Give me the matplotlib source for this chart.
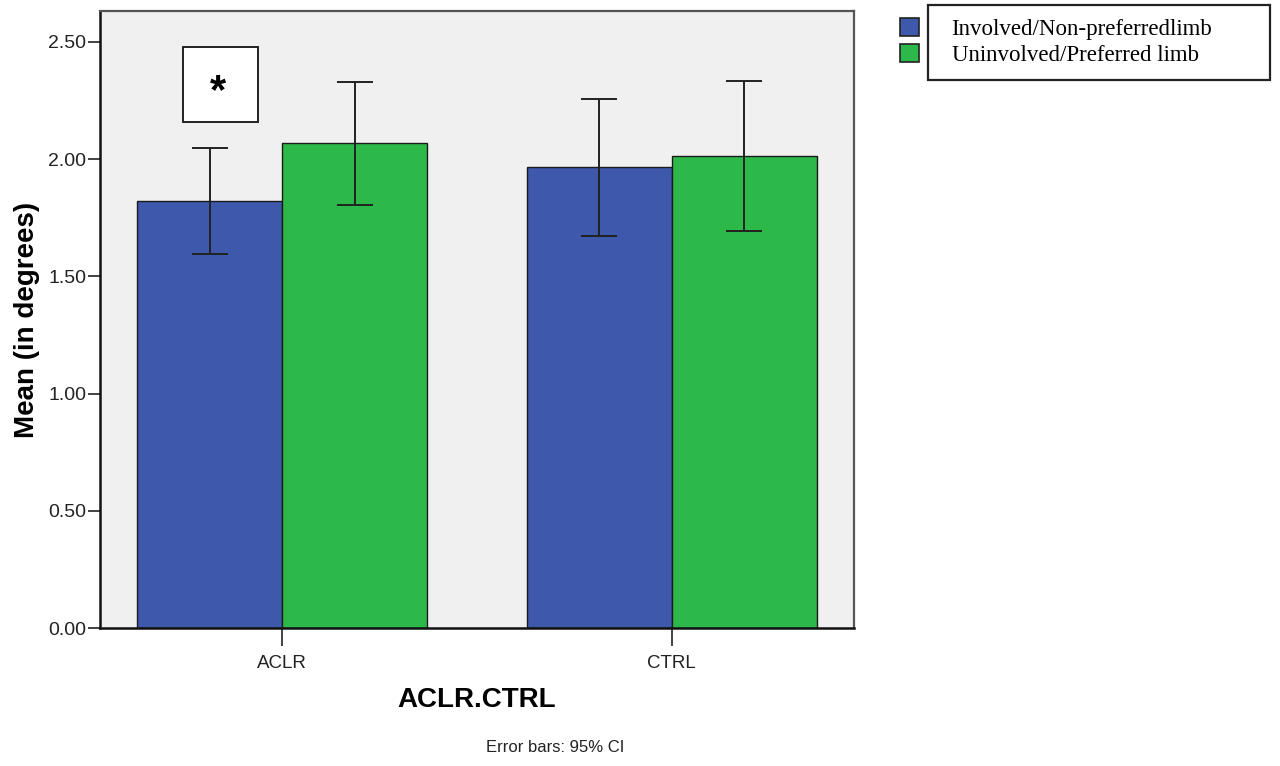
import numpy as np
import matplotlib.pyplot as plt
from matplotlib.patches import Patch, Rectangle

groups = ["ACLR", "CTRL"]
series = ["Involved/Non-preferredlimb", "Uninvolved/Preferred limb"]
colors = ["#3E58AC", "#2DB84A"]

means = [[1.82, 1.965], [2.07, 2.015]]
ci_low = [[1.595, 1.672], [1.805, 1.694]]
ci_high = [[2.048, 2.257], [2.33, 2.334]]

plt.rcParams['font.family'] = ['Liberation Sans', 'DejaVu Sans']

fig = plt.figure(figsize=(12.8, 7.66), dpi=100)
ax = fig.add_axes([0.0781, 0.180, 0.589, 0.8056])
ax.set_facecolor("#F0F0F0")

x = np.arange(len(groups))
w = 0.372
for i in range(len(series)):
    xs = x + (i - 0.5) * w
    m = np.array(means[i])
    lo = m - np.array(ci_low[i])
    hi = np.array(ci_high[i]) - m
    ax.bar(xs, m, width=w, color=colors[i], edgecolor="#1a1a1a", linewidth=1.0, zorder=2)
    ax.errorbar(xs, m, yerr=[lo, hi], fmt="none", ecolor="#222222", elinewidth=1.4,
                capsize=13, capthick=1.4, zorder=3)

ax.set_xlim(-0.467, 1.467)
ax.set_ylim(0, 2.632)
ax.set_yticks([0, 0.5, 1.0, 1.5, 2.0, 2.5])
ax.set_yticklabels(["%.2f" % v for v in [0, 0.5, 1.0, 1.5, 2.0, 2.5]])
ax.set_xticks(x)
ax.set_xticklabels(groups)
ax.tick_params(axis="y", length=9, width=1.2, labelsize=14, colors="#222222", pad=1)
ax.tick_params(axis="x", length=13, width=1.2, labelsize=13.5, colors="#222222", pad=6)

for s in ["left", "bottom"]:
    ax.spines[s].set_linewidth(1.8)
    ax.spines[s].set_color("#111111")
for s in ["top", "right"]:
    ax.spines[s].set_linewidth(1.6)
    ax.spines[s].set_color("#555555")

ax.set_ylabel("Mean (in degrees)", fontsize=20, fontweight="bold", labelpad=6)
ax.set_xlabel("ACLR.CTRL", fontsize=20, fontweight="bold", labelpad=11)

# significance marker
ax.add_patch(Rectangle((-0.254, 2.159), 0.193, 0.32, facecolor="white",
                       edgecolor="#222222", linewidth=1.4, zorder=4))
ax.text(-0.164, 2.285, "*", ha="center", va="center", fontsize=30, fontweight="bold", zorder=5)

fig.text(0.434, 0.024, "Error bars: 95% CI", ha="center", va="center", fontsize=12, color="#222222")

handles = [Patch(facecolor=c, edgecolor="#222222", linewidth=1.2) for c in colors]
fig.legend(handles, series, loc="upper left", bbox_to_anchor=(900 / 1280, 1 - 18 / 766),
           frameon=False, handlelength=0.85, handleheight=0.85, handletextpad=1.4,
           labelspacing=0.15, borderpad=0.0, borderaxespad=0,
           prop={"family": "Liberation Serif", "size": 16.5})
fig.patches.append(Rectangle((928 / 1280, 1 - 80 / 766), 342 / 1280, 75 / 766,
                             transform=fig.transFigure, fill=False,
                             edgecolor="#222222", linewidth=1.6))

fig.savefig("out.png", dpi=100)
